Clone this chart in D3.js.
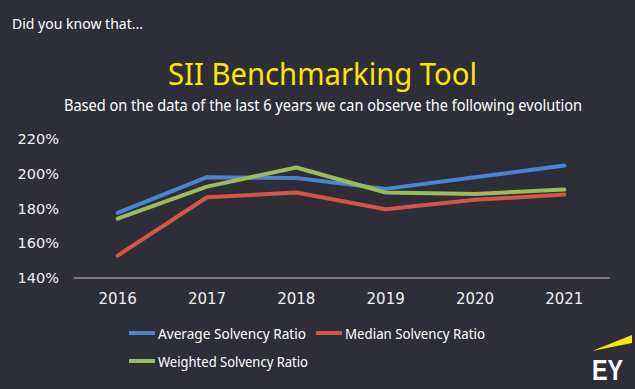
<!DOCTYPE html>
<html>
<head>
<meta charset="utf-8">
<script src="https://cdn.jsdelivr.net/npm/d3@7"></script>
<style>
  body { margin: 0; background: #2e2e38; }
  svg { display: block; }
</style>
</head>
<body>
<script>
var w = 635;
var h = 389;

var years = ["2016", "2017", "2018", "2019", "2020", "2021"];
var average = [177.5, 198, 197.5, 191.3, 198, 204.7];
var median = [152.9, 186.5, 189.2, 179.6, 185, 188];
var weighted = [174.2, 192.6, 203.6, 189.2, 188.4, 191];
var yTicks = [140, 160, 180, 200, 220];

var series = [
  { name: "Average Solvency Ratio", values: average, color: "#4a85d0" },
  { name: "Median Solvency Ratio", values: median, color: "#d3564a" },
  { name: "Weighted Solvency Ratio", values: weighted, color: "#9cbb59" }
];

var svg = d3.select("body").append("svg")
  .attr("width", w)
  .attr("height", h);

svg.append("rect").attr("width", w).attr("height", h).attr("fill", "#2e2e38");

svg.append("text")
  .attr("x", 12).attr("y", 29)
  .attr("fill", "#ffffff")
  .attr("font-family", "Noto Sans")
  .attr("font-size", 15)
  .attr("textLength", 131)
  .attr("lengthAdjust", "spacingAndGlyphs")
  .text("Did you know that...");

svg.append("text")
  .attr("x", 168).attr("y", 85)
  .attr("fill", "#ffe600")
  .attr("font-family", "Noto Sans")
  .attr("font-size", 31)
  .attr("textLength", 309)
  .attr("lengthAdjust", "spacingAndGlyphs")
  .text("SII Benchmarking Tool");

svg.append("text")
  .attr("x", 64).attr("y", 111)
  .attr("fill", "#ffffff")
  .attr("font-family", "Noto Sans")
  .attr("font-size", 16)
  .attr("textLength", 518)
  .attr("lengthAdjust", "spacingAndGlyphs")
  .text("Based on the data of the last 6 years we can observe the following evolution");

var x = d3.scaleBand().domain(years).range([73, 609]);
var y = d3.scaleLinear().domain([140, 220]).range([278, 139]);

// y axis labels, no line
var yAxis = svg.append("g")
  .attr("transform", "translate(59,0)")
  .call(d3.axisLeft(y).tickValues(yTicks).tickSize(0).tickPadding(0)
    .tickFormat(function(d) { return d + "%"; }));
yAxis.select(".domain").remove();
yAxis.selectAll("text")
  .attr("fill", "#f0f0f0")
  .attr("font-family", "DejaVu Sans")
  .attr("font-size", 14.5);

var xAxis = svg.append("g")
  .attr("transform", "translate(0,277.5)")
  .call(d3.axisBottom(x).tickSize(0).tickPadding(16));
xAxis.select(".domain").attr("stroke", "#c8c8c8").attr("stroke-width", 1);
xAxis.selectAll("text")
  .attr("fill", "#f0f0f0")
  .attr("font-family", "DejaVu Sans")
  .attr("font-size", 15);

var line = d3.line()
  .x(function(d, i) { return x(years[i]) + x.bandwidth() / 2; })
  .y(function(d) { return y(d); });

svg.selectAll("path.series")
  .data(series)
  .enter()
  .append("path")
  .attr("class", "series")
  .attr("d", function(d) { return line(d.values); })
  .attr("fill", "none")
  .attr("stroke", function(d) { return d.color; })
  .attr("stroke-width", 4)
  .attr("stroke-linejoin", "round")
  .attr("stroke-linecap", "round");

// legend
var legendPos = [[129, 333], [316, 333], [129, 361]];
var legendWidth = [148, 140, 150];
var legend = svg.selectAll("g.legend")
  .data(series)
  .enter()
  .append("g")
  .attr("class", "legend")
  .attr("transform", function(d, i) { return "translate(" + legendPos[i][0] + "," + legendPos[i][1] + ")"; });

legend.append("line")
  .attr("x1", 0).attr("x2", 26)
  .attr("stroke", function(d) { return d.color; })
  .attr("stroke-width", 4);

legend.append("text")
  .attr("x", 29).attr("y", 5.5)
  .attr("fill", "#ffffff")
  .attr("font-family", "Noto Sans")
  .attr("font-size", 15)
  .attr("textLength", function(d, i) { return legendWidth[i]; })
  .attr("lengthAdjust", "spacingAndGlyphs")
  .text(function(d) { return d.name; });

// EY logo
svg.append("polygon")
  .attr("points", "592,351 632,335 632,343")
  .attr("fill", "#ffe600");
svg.append("text")
  .attr("x", 592).attr("y", 380)
  .attr("fill", "#ffffff")
  .attr("font-family", "Liberation Sans")
  .attr("font-weight", "bold")
  .attr("font-size", 30)
  .attr("textLength", 31)
  .attr("lengthAdjust", "spacingAndGlyphs")
  .text("EY");
</script>
</body>
</html>
